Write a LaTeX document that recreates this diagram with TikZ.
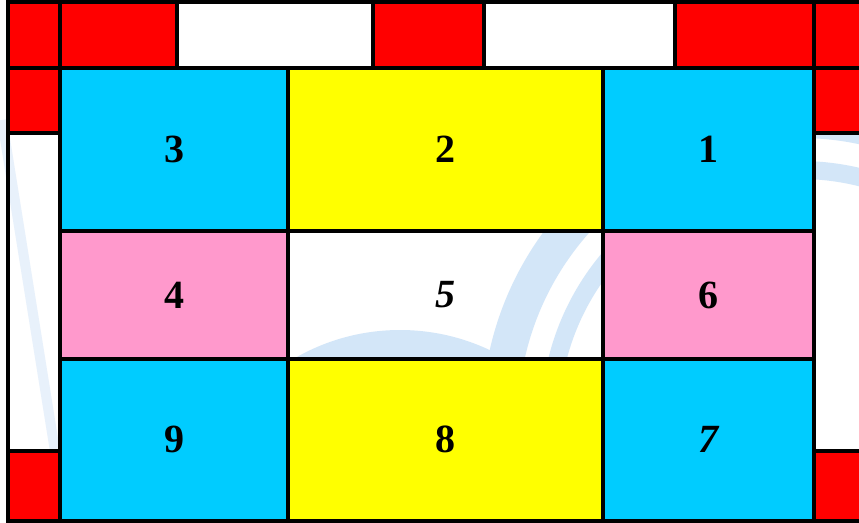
\documentclass[tikz,border=0pt]{standalone}
\usepackage{fontspec}
\setmainfont{Liberation Serif}
\usetikzlibrary{fit}
\definecolor{cellcyan}{HTML}{00CCFF}
\definecolor{cellyellow}{HTML}{FFFF00}
\definecolor{cellpink}{HTML}{FF99CC}
\definecolor{cellred}{HTML}{FF0000}
\definecolor{wmblue}{HTML}{D3E6F8}
\definecolor{wmpale}{HTML}{E8F1FB}
\begin{document}
\begin{tikzpicture}[x=1pt,y=-1pt,
  cell/.style={draw=black, line width=4pt, inner sep=0pt},
  red/.style={cell, fill=cellred},
  blank/.style={cell},
  blue/.style={cell, fill=cellcyan},
  yel/.style={cell, fill=cellyellow},
  pink/.style={cell, fill=cellpink},
  num/.style={inner sep=0pt, anchor=center, font=\fontsize{40}{42}\selectfont\bfseries},
  wm/.style={draw=wmblue, line cap=butt}]
\useasboundingbox (0,0) rectangle (859,522);
\clip (0,0) rectangle (859,522);
\fill[white] (0,0) rectangle (859,522);
% faint watermark
\draw[wm, line width=36pt] (800,420) circle[radius=300];
\draw[wm, line width=18pt] (800,420) circle[radius=250];
\draw[wm, line width=40pt] (400,540) circle[radius=190];
\draw[draw=wmpale, line width=10pt] (2,120) -- (58,470);
% top row
\node[red,   fit={(8,2) (60,68)}] (t0) {};
\node[red,   fit={(60,2) (177,68)}] (t1) {};
\node[blank, fit={(177,2) (373,68)}] (t2) {};
\node[red,   fit={(373,2) (484,68)}] (t3) {};
\node[blank, fit={(484,2) (675,68)}] (t4) {};
\node[red,   fit={(675,2) (814,68)}] (t5) {};
\node[red,   fit={(814,2) (875,68)}] (t6) {};
% left column
\node[red,   fit={(8,68) (60,132.5)}] (l1) {};
\node[blank, fit={(8,132.5) (60,451)}] (l2) {};
\node[red,   fit={(8,451) (60,520.5)}] (l3) {};
% right column
\node[red,   fit={(814,68) (875,132.5)}] (r1) {};
\node[blank, fit={(814,132.5) (875,451)}] (r2) {};
\node[red,   fit={(814,451) (875,520.5)}] (r3) {};
% main grid
\node[blue, fit={(60,68) (288,231)}] (c3) {};
\node[yel,  fit={(288,68) (603,231)}] (c2) {};
\node[blue, fit={(603,68) (814,231)}] (c1) {};
\node[pink, fit={(60,231) (288,359)}] (c4) {};
\node[blank,fit={(288,231) (603,359)}] (c5) {};
\node[pink, fit={(603,231) (814,359)}] (c6) {};
\node[blue, fit={(60,359) (288,520.5)}] (c9) {};
\node[yel,  fit={(288,359) (603,520.5)}] (c8) {};
\node[blue, fit={(603,359) (814,520.5)}] (c7) {};
% labels
\node[num] (n3) at (c3.center) {3};
\node[num] (n2) at (c2.center) {2};
\node[num] (n1) at (c1.center) {1};
\node[num] (n4) at (c4.center) {4};
\node[num] (n5) at (c5.center) {\itshape 5};
\node[num] (n6) at (c6.center) {6};
\node[num] (n9) at (c9.center) {9};
\node[num] (n8) at (c8.center) {8};
\node[num] (n7) at (c7.center) {\itshape 7};
\end{tikzpicture}
\end{document}
